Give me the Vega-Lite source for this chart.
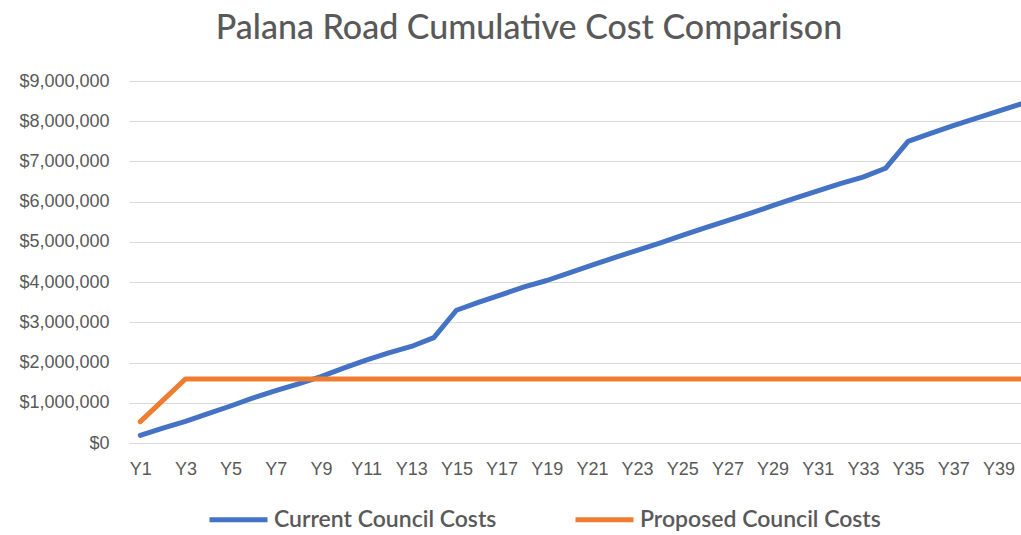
{
  "$schema": "https://vega.github.io/schema/vega-lite/v6.json",
  "autosize": "none",
  "width": 892,
  "height": 362,
  "padding": {"left": 129, "top": 81, "right": 0, "bottom": 92},
  "background": "white",
  "title": {
    "text": "Palana Road Cumulative Cost Comparison",
    "font": "Lato",
    "fontSize": 34,
    "fontWeight": 500,
    "color": "#595959",
    "anchor": "middle",
    "dx": -46,
    "offset": 26
  },
  "data": {
    "values": [
      {"year": "Y1", "series": "Current Council Costs", "cost": 190000},
      {"year": "Y2", "series": "Current Council Costs", "cost": 370000},
      {"year": "Y3", "series": "Current Council Costs", "cost": 540000},
      {"year": "Y4", "series": "Current Council Costs", "cost": 730000},
      {"year": "Y5", "series": "Current Council Costs", "cost": 920000},
      {"year": "Y6", "series": "Current Council Costs", "cost": 1120000},
      {"year": "Y7", "series": "Current Council Costs", "cost": 1300000},
      {"year": "Y8", "series": "Current Council Costs", "cost": 1470000},
      {"year": "Y9", "series": "Current Council Costs", "cost": 1650000},
      {"year": "Y10", "series": "Current Council Costs", "cost": 1860000},
      {"year": "Y11", "series": "Current Council Costs", "cost": 2060000},
      {"year": "Y12", "series": "Current Council Costs", "cost": 2240000},
      {"year": "Y13", "series": "Current Council Costs", "cost": 2400000},
      {"year": "Y14", "series": "Current Council Costs", "cost": 2620000},
      {"year": "Y15", "series": "Current Council Costs", "cost": 3300000},
      {"year": "Y16", "series": "Current Council Costs", "cost": 3500000},
      {"year": "Y17", "series": "Current Council Costs", "cost": 3690000},
      {"year": "Y18", "series": "Current Council Costs", "cost": 3880000},
      {"year": "Y19", "series": "Current Council Costs", "cost": 4040000},
      {"year": "Y20", "series": "Current Council Costs", "cost": 4230000},
      {"year": "Y21", "series": "Current Council Costs", "cost": 4420000},
      {"year": "Y22", "series": "Current Council Costs", "cost": 4610000},
      {"year": "Y23", "series": "Current Council Costs", "cost": 4790000},
      {"year": "Y24", "series": "Current Council Costs", "cost": 4970000},
      {"year": "Y25", "series": "Current Council Costs", "cost": 5160000},
      {"year": "Y26", "series": "Current Council Costs", "cost": 5350000},
      {"year": "Y27", "series": "Current Council Costs", "cost": 5530000},
      {"year": "Y28", "series": "Current Council Costs", "cost": 5710000},
      {"year": "Y29", "series": "Current Council Costs", "cost": 5900000},
      {"year": "Y30", "series": "Current Council Costs", "cost": 6090000},
      {"year": "Y31", "series": "Current Council Costs", "cost": 6270000},
      {"year": "Y32", "series": "Current Council Costs", "cost": 6450000},
      {"year": "Y33", "series": "Current Council Costs", "cost": 6610000},
      {"year": "Y34", "series": "Current Council Costs", "cost": 6830000},
      {"year": "Y35", "series": "Current Council Costs", "cost": 7500000},
      {"year": "Y36", "series": "Current Council Costs", "cost": 7700000},
      {"year": "Y37", "series": "Current Council Costs", "cost": 7890000},
      {"year": "Y38", "series": "Current Council Costs", "cost": 8070000},
      {"year": "Y39", "series": "Current Council Costs", "cost": 8250000},
      {"year": "Y40", "series": "Current Council Costs", "cost": 8430000},
      {"year": "Y1", "series": "Proposed Council Costs", "cost": 530000},
      {"year": "Y2", "series": "Proposed Council Costs", "cost": 1060000},
      {"year": "Y3", "series": "Proposed Council Costs", "cost": 1590000},
      {"year": "Y4", "series": "Proposed Council Costs", "cost": 1590000},
      {"year": "Y5", "series": "Proposed Council Costs", "cost": 1590000},
      {"year": "Y6", "series": "Proposed Council Costs", "cost": 1590000},
      {"year": "Y7", "series": "Proposed Council Costs", "cost": 1590000},
      {"year": "Y8", "series": "Proposed Council Costs", "cost": 1590000},
      {"year": "Y9", "series": "Proposed Council Costs", "cost": 1590000},
      {"year": "Y10", "series": "Proposed Council Costs", "cost": 1590000},
      {"year": "Y11", "series": "Proposed Council Costs", "cost": 1590000},
      {"year": "Y12", "series": "Proposed Council Costs", "cost": 1590000},
      {"year": "Y13", "series": "Proposed Council Costs", "cost": 1590000},
      {"year": "Y14", "series": "Proposed Council Costs", "cost": 1590000},
      {"year": "Y15", "series": "Proposed Council Costs", "cost": 1590000},
      {"year": "Y16", "series": "Proposed Council Costs", "cost": 1590000},
      {"year": "Y17", "series": "Proposed Council Costs", "cost": 1590000},
      {"year": "Y18", "series": "Proposed Council Costs", "cost": 1590000},
      {"year": "Y19", "series": "Proposed Council Costs", "cost": 1590000},
      {"year": "Y20", "series": "Proposed Council Costs", "cost": 1590000},
      {"year": "Y21", "series": "Proposed Council Costs", "cost": 1590000},
      {"year": "Y22", "series": "Proposed Council Costs", "cost": 1590000},
      {"year": "Y23", "series": "Proposed Council Costs", "cost": 1590000},
      {"year": "Y24", "series": "Proposed Council Costs", "cost": 1590000},
      {"year": "Y25", "series": "Proposed Council Costs", "cost": 1590000},
      {"year": "Y26", "series": "Proposed Council Costs", "cost": 1590000},
      {"year": "Y27", "series": "Proposed Council Costs", "cost": 1590000},
      {"year": "Y28", "series": "Proposed Council Costs", "cost": 1590000},
      {"year": "Y29", "series": "Proposed Council Costs", "cost": 1590000},
      {"year": "Y30", "series": "Proposed Council Costs", "cost": 1590000},
      {"year": "Y31", "series": "Proposed Council Costs", "cost": 1590000},
      {"year": "Y32", "series": "Proposed Council Costs", "cost": 1590000},
      {"year": "Y33", "series": "Proposed Council Costs", "cost": 1590000},
      {"year": "Y34", "series": "Proposed Council Costs", "cost": 1590000},
      {"year": "Y35", "series": "Proposed Council Costs", "cost": 1590000},
      {"year": "Y36", "series": "Proposed Council Costs", "cost": 1590000},
      {"year": "Y37", "series": "Proposed Council Costs", "cost": 1590000},
      {"year": "Y38", "series": "Proposed Council Costs", "cost": 1590000},
      {"year": "Y39", "series": "Proposed Council Costs", "cost": 1590000},
      {"year": "Y40", "series": "Proposed Council Costs", "cost": 1590000}
    ]
  },
  "mark": {"type": "line", "strokeWidth": 5, "strokeCap": "round", "strokeJoin": "round"},
  "encoding": {
    "x": {
      "field": "year",
      "type": "ordinal",
      "sort": null,
      "scale": {"type": "point", "padding": 0.25, "align": 1},
      "axis": {
        "title": null,
        "values": ["Y1","Y3","Y5","Y7","Y9","Y11","Y13","Y15","Y17","Y19","Y21","Y23","Y25","Y27","Y29","Y31","Y33","Y35","Y37","Y39"],
        "labelAngle": 0,
        "labelFont": "Liberation Sans",
        "labelFontSize": 18,
        "labelColor": "#595959",
        "labelPadding": 17,
        "ticks": false,
        "domain": true,
        "domainColor": "#d9d9d9",
        "domainWidth": 1,
        "grid": false
      }
    },
    "y": {
      "field": "cost",
      "type": "quantitative",
      "scale": {"domain": [0, 9000000], "nice": false},
      "axis": {
        "title": null,
        "values": [0,1000000,2000000,3000000,4000000,5000000,6000000,7000000,8000000,9000000],
        "format": "$,.0f",
        "labelFont": "Liberation Sans",
        "labelFontSize": 18,
        "labelColor": "#595959",
        "labelPadding": 20,
        "ticks": false,
        "domain": false,
        "grid": true,
        "gridColor": "#d9d9d9",
        "gridWidth": 1
      }
    },
    "color": {
      "field": "series",
      "type": "nominal",
      "scale": {"domain": ["Current Council Costs", "Proposed Council Costs"], "range": ["#4472C4", "#ED7D31"]},
      "legend": {
        "title": null,
        "orient": "none",
        "direction": "horizontal",
        "legendX": 78,
        "legendY": 407,
        "symbolType": "stroke",
        "symbolSize": 3364,
        "symbolStrokeWidth": 5,
        "labelFont": "Lato",
        "labelFontSize": 23,
        "labelFontWeight": 600,
        "labelColor": "#595959",
        "labelOffset": 4,
        "columnPadding": 68,
        "labelLimit": 400
      }
    }
  },
  "config": {"view": {"stroke": null}}
}
